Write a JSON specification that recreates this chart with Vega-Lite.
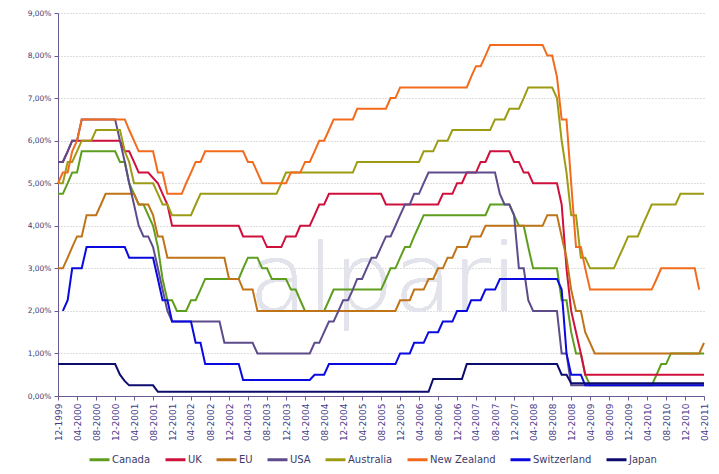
{
  "$schema": "https://vega.github.io/schema/vega-lite/v6.json",
  "width": 646,
  "height": 383,
  "autosize": "none",
  "padding": {"left": 58, "top": 13, "right": 15, "bottom": 78},
  "background": "white",
  "data": {"values": [
    {"country":"Canada","date":"1999-12-01","rate":4.75},{"country":"Canada","date":"2000-01-01","rate":4.75},{"country":"Canada","date":"2000-02-01","rate":5.0},{"country":"Canada","date":"2000-03-01","rate":5.25},{"country":"Canada","date":"2000-04-01","rate":5.25},{"country":"Canada","date":"2000-05-01","rate":5.75},{"country":"Canada","date":"2000-12-01","rate":5.75},{"country":"Canada","date":"2001-01-01","rate":5.5},{"country":"Canada","date":"2001-02-01","rate":5.5},{"country":"Canada","date":"2001-03-01","rate":5.0},{"country":"Canada","date":"2001-04-01","rate":4.75},{"country":"Canada","date":"2001-05-01","rate":4.5},{"country":"Canada","date":"2001-06-01","rate":4.5},{"country":"Canada","date":"2001-07-01","rate":4.25},{"country":"Canada","date":"2001-08-01","rate":4.0},{"country":"Canada","date":"2001-09-01","rate":3.5},{"country":"Canada","date":"2001-10-01","rate":2.75},{"country":"Canada","date":"2001-11-01","rate":2.25},{"country":"Canada","date":"2001-12-01","rate":2.25},{"country":"Canada","date":"2002-01-01","rate":2.0},{"country":"Canada","date":"2002-03-01","rate":2.0},{"country":"Canada","date":"2002-04-01","rate":2.25},{"country":"Canada","date":"2002-05-01","rate":2.25},{"country":"Canada","date":"2002-06-01","rate":2.5},{"country":"Canada","date":"2002-07-01","rate":2.75},{"country":"Canada","date":"2003-02-01","rate":2.75},{"country":"Canada","date":"2003-03-01","rate":3.0},{"country":"Canada","date":"2003-04-01","rate":3.25},{"country":"Canada","date":"2003-06-01","rate":3.25},{"country":"Canada","date":"2003-07-01","rate":3.0},{"country":"Canada","date":"2003-08-01","rate":3.0},{"country":"Canada","date":"2003-09-01","rate":2.75},{"country":"Canada","date":"2003-12-01","rate":2.75},{"country":"Canada","date":"2004-01-01","rate":2.5},{"country":"Canada","date":"2004-02-01","rate":2.5},{"country":"Canada","date":"2004-03-01","rate":2.25},{"country":"Canada","date":"2004-04-01","rate":2.0},{"country":"Canada","date":"2004-08-01","rate":2.0},{"country":"Canada","date":"2004-09-01","rate":2.25},{"country":"Canada","date":"2004-10-01","rate":2.5},{"country":"Canada","date":"2005-08-01","rate":2.5},{"country":"Canada","date":"2005-09-01","rate":2.75},{"country":"Canada","date":"2005-10-01","rate":3.0},{"country":"Canada","date":"2005-11-01","rate":3.0},{"country":"Canada","date":"2005-12-01","rate":3.25},{"country":"Canada","date":"2006-01-01","rate":3.5},{"country":"Canada","date":"2006-02-01","rate":3.5},{"country":"Canada","date":"2006-03-01","rate":3.75},{"country":"Canada","date":"2006-04-01","rate":4.0},{"country":"Canada","date":"2006-05-01","rate":4.25},{"country":"Canada","date":"2007-06-01","rate":4.25},{"country":"Canada","date":"2007-07-01","rate":4.5},{"country":"Canada","date":"2007-11-01","rate":4.5},{"country":"Canada","date":"2007-12-01","rate":4.25},{"country":"Canada","date":"2008-01-01","rate":4.0},{"country":"Canada","date":"2008-02-01","rate":4.0},{"country":"Canada","date":"2008-03-01","rate":3.5},{"country":"Canada","date":"2008-04-01","rate":3.0},{"country":"Canada","date":"2008-09-01","rate":3.0},{"country":"Canada","date":"2008-10-01","rate":2.25},{"country":"Canada","date":"2008-11-01","rate":2.25},{"country":"Canada","date":"2008-12-01","rate":1.5},{"country":"Canada","date":"2009-01-01","rate":1.0},{"country":"Canada","date":"2009-02-01","rate":1.0},{"country":"Canada","date":"2009-03-01","rate":0.5},{"country":"Canada","date":"2009-04-01","rate":0.25},{"country":"Canada","date":"2010-05-01","rate":0.25},{"country":"Canada","date":"2010-06-01","rate":0.5},{"country":"Canada","date":"2010-07-01","rate":0.75},{"country":"Canada","date":"2010-08-01","rate":0.75},{"country":"Canada","date":"2010-09-01","rate":1.0},{"country":"Canada","date":"2011-04-01","rate":1.0},

    {"country":"UK","date":"1999-12-01","rate":5.5},{"country":"UK","date":"2000-01-01","rate":5.5},{"country":"UK","date":"2000-02-01","rate":5.75},{"country":"UK","date":"2000-03-01","rate":6.0},{"country":"UK","date":"2001-01-01","rate":6.0},{"country":"UK","date":"2001-02-01","rate":5.75},{"country":"UK","date":"2001-03-01","rate":5.75},{"country":"UK","date":"2001-04-01","rate":5.5},{"country":"UK","date":"2001-05-01","rate":5.25},{"country":"UK","date":"2001-07-01","rate":5.25},{"country":"UK","date":"2001-09-01","rate":5.0},{"country":"UK","date":"2001-10-01","rate":4.75},{"country":"UK","date":"2001-11-01","rate":4.5},{"country":"UK","date":"2001-12-01","rate":4.0},{"country":"UK","date":"2003-02-01","rate":4.0},{"country":"UK","date":"2003-03-01","rate":3.75},{"country":"UK","date":"2003-07-01","rate":3.75},{"country":"UK","date":"2003-08-01","rate":3.5},{"country":"UK","date":"2003-11-01","rate":3.5},{"country":"UK","date":"2003-12-01","rate":3.75},{"country":"UK","date":"2004-02-01","rate":3.75},{"country":"UK","date":"2004-03-01","rate":4.0},{"country":"UK","date":"2004-05-01","rate":4.0},{"country":"UK","date":"2004-06-01","rate":4.25},{"country":"UK","date":"2004-07-01","rate":4.5},{"country":"UK","date":"2004-08-01","rate":4.5},{"country":"UK","date":"2004-09-01","rate":4.75},{"country":"UK","date":"2005-08-01","rate":4.75},{"country":"UK","date":"2005-09-01","rate":4.5},{"country":"UK","date":"2006-08-01","rate":4.5},{"country":"UK","date":"2006-09-01","rate":4.75},{"country":"UK","date":"2006-11-01","rate":4.75},{"country":"UK","date":"2006-12-01","rate":5.0},{"country":"UK","date":"2007-01-01","rate":5.0},{"country":"UK","date":"2007-02-01","rate":5.25},{"country":"UK","date":"2007-04-01","rate":5.25},{"country":"UK","date":"2007-05-01","rate":5.5},{"country":"UK","date":"2007-06-01","rate":5.5},{"country":"UK","date":"2007-07-01","rate":5.75},{"country":"UK","date":"2007-11-01","rate":5.75},{"country":"UK","date":"2007-12-01","rate":5.5},{"country":"UK","date":"2008-01-01","rate":5.5},{"country":"UK","date":"2008-02-01","rate":5.25},{"country":"UK","date":"2008-03-01","rate":5.25},{"country":"UK","date":"2008-04-01","rate":5.0},{"country":"UK","date":"2008-09-01","rate":5.0},{"country":"UK","date":"2008-10-01","rate":4.5},{"country":"UK","date":"2008-11-01","rate":3.0},{"country":"UK","date":"2008-12-01","rate":2.0},{"country":"UK","date":"2009-01-01","rate":1.5},{"country":"UK","date":"2009-02-01","rate":1.0},{"country":"UK","date":"2009-03-01","rate":0.5},{"country":"UK","date":"2011-04-01","rate":0.5},

    {"country":"EU","date":"1999-12-01","rate":3.0},{"country":"EU","date":"2000-01-01","rate":3.0},{"country":"EU","date":"2000-02-01","rate":3.25},{"country":"EU","date":"2000-03-01","rate":3.5},{"country":"EU","date":"2000-04-01","rate":3.75},{"country":"EU","date":"2000-05-01","rate":3.75},{"country":"EU","date":"2000-06-01","rate":4.25},{"country":"EU","date":"2000-08-01","rate":4.25},{"country":"EU","date":"2000-09-01","rate":4.5},{"country":"EU","date":"2000-10-01","rate":4.75},{"country":"EU","date":"2001-04-01","rate":4.75},{"country":"EU","date":"2001-05-01","rate":4.5},{"country":"EU","date":"2001-07-01","rate":4.5},{"country":"EU","date":"2001-08-01","rate":4.25},{"country":"EU","date":"2001-09-01","rate":3.75},{"country":"EU","date":"2001-10-01","rate":3.75},{"country":"EU","date":"2001-11-01","rate":3.25},{"country":"EU","date":"2002-11-01","rate":3.25},{"country":"EU","date":"2002-12-01","rate":2.75},{"country":"EU","date":"2003-02-01","rate":2.75},{"country":"EU","date":"2003-03-01","rate":2.5},{"country":"EU","date":"2003-05-01","rate":2.5},{"country":"EU","date":"2003-06-01","rate":2.0},{"country":"EU","date":"2005-11-01","rate":2.0},{"country":"EU","date":"2005-12-01","rate":2.25},{"country":"EU","date":"2006-02-01","rate":2.25},{"country":"EU","date":"2006-03-01","rate":2.5},{"country":"EU","date":"2006-05-01","rate":2.5},{"country":"EU","date":"2006-06-01","rate":2.75},{"country":"EU","date":"2006-07-01","rate":2.75},{"country":"EU","date":"2006-08-01","rate":3.0},{"country":"EU","date":"2006-09-01","rate":3.0},{"country":"EU","date":"2006-10-01","rate":3.25},{"country":"EU","date":"2006-11-01","rate":3.25},{"country":"EU","date":"2006-12-01","rate":3.5},{"country":"EU","date":"2007-02-01","rate":3.5},{"country":"EU","date":"2007-03-01","rate":3.75},{"country":"EU","date":"2007-05-01","rate":3.75},{"country":"EU","date":"2007-06-01","rate":4.0},{"country":"EU","date":"2008-06-01","rate":4.0},{"country":"EU","date":"2008-07-01","rate":4.25},{"country":"EU","date":"2008-09-01","rate":4.25},{"country":"EU","date":"2008-10-01","rate":3.75},{"country":"EU","date":"2008-11-01","rate":3.25},{"country":"EU","date":"2008-12-01","rate":2.5},{"country":"EU","date":"2009-01-01","rate":2.0},{"country":"EU","date":"2009-02-01","rate":2.0},{"country":"EU","date":"2009-03-01","rate":1.5},{"country":"EU","date":"2009-04-01","rate":1.25},{"country":"EU","date":"2009-05-01","rate":1.0},{"country":"EU","date":"2011-03-01","rate":1.0},{"country":"EU","date":"2011-04-01","rate":1.25},

    {"country":"USA","date":"1999-12-01","rate":5.5},{"country":"USA","date":"2000-01-01","rate":5.5},{"country":"USA","date":"2000-02-01","rate":5.75},{"country":"USA","date":"2000-03-01","rate":6.0},{"country":"USA","date":"2000-04-01","rate":6.0},{"country":"USA","date":"2000-05-01","rate":6.5},{"country":"USA","date":"2000-12-01","rate":6.5},{"country":"USA","date":"2001-01-01","rate":6.0},{"country":"USA","date":"2001-02-01","rate":5.5},{"country":"USA","date":"2001-03-01","rate":5.0},{"country":"USA","date":"2001-04-01","rate":4.5},{"country":"USA","date":"2001-05-01","rate":4.0},{"country":"USA","date":"2001-06-01","rate":3.75},{"country":"USA","date":"2001-07-01","rate":3.75},{"country":"USA","date":"2001-08-01","rate":3.5},{"country":"USA","date":"2001-09-01","rate":3.0},{"country":"USA","date":"2001-10-01","rate":2.5},{"country":"USA","date":"2001-11-01","rate":2.0},{"country":"USA","date":"2001-12-01","rate":1.75},{"country":"USA","date":"2002-10-01","rate":1.75},{"country":"USA","date":"2002-11-01","rate":1.25},{"country":"USA","date":"2003-05-01","rate":1.25},{"country":"USA","date":"2003-06-01","rate":1.0},{"country":"USA","date":"2004-05-01","rate":1.0},{"country":"USA","date":"2004-06-01","rate":1.25},{"country":"USA","date":"2004-07-01","rate":1.25},{"country":"USA","date":"2004-08-01","rate":1.5},{"country":"USA","date":"2004-09-01","rate":1.75},{"country":"USA","date":"2004-10-01","rate":1.75},{"country":"USA","date":"2004-11-01","rate":2.0},{"country":"USA","date":"2004-12-01","rate":2.25},{"country":"USA","date":"2005-01-01","rate":2.25},{"country":"USA","date":"2005-02-01","rate":2.5},{"country":"USA","date":"2005-03-01","rate":2.75},{"country":"USA","date":"2005-04-01","rate":2.75},{"country":"USA","date":"2005-05-01","rate":3.0},{"country":"USA","date":"2005-06-01","rate":3.25},{"country":"USA","date":"2005-07-01","rate":3.25},{"country":"USA","date":"2005-08-01","rate":3.5},{"country":"USA","date":"2005-09-01","rate":3.75},{"country":"USA","date":"2005-10-01","rate":3.75},{"country":"USA","date":"2005-11-01","rate":4.0},{"country":"USA","date":"2005-12-01","rate":4.25},{"country":"USA","date":"2006-01-01","rate":4.5},{"country":"USA","date":"2006-02-01","rate":4.5},{"country":"USA","date":"2006-03-01","rate":4.75},{"country":"USA","date":"2006-04-01","rate":4.75},{"country":"USA","date":"2006-05-01","rate":5.0},{"country":"USA","date":"2006-06-01","rate":5.25},{"country":"USA","date":"2007-08-01","rate":5.25},{"country":"USA","date":"2007-09-01","rate":4.75},{"country":"USA","date":"2007-10-01","rate":4.5},{"country":"USA","date":"2007-11-01","rate":4.5},{"country":"USA","date":"2007-12-01","rate":4.25},{"country":"USA","date":"2008-01-01","rate":3.0},{"country":"USA","date":"2008-02-01","rate":3.0},{"country":"USA","date":"2008-03-01","rate":2.25},{"country":"USA","date":"2008-04-01","rate":2.0},{"country":"USA","date":"2008-09-01","rate":2.0},{"country":"USA","date":"2008-10-01","rate":1.0},{"country":"USA","date":"2008-11-01","rate":1.0},{"country":"USA","date":"2008-12-01","rate":0.25},{"country":"USA","date":"2011-04-01","rate":0.25},

    {"country":"Australia","date":"1999-12-01","rate":5.0},{"country":"Australia","date":"2000-01-01","rate":5.0},{"country":"Australia","date":"2000-02-01","rate":5.5},{"country":"Australia","date":"2000-03-01","rate":5.5},{"country":"Australia","date":"2000-04-01","rate":5.75},{"country":"Australia","date":"2000-05-01","rate":6.0},{"country":"Australia","date":"2000-07-01","rate":6.0},{"country":"Australia","date":"2000-08-01","rate":6.25},{"country":"Australia","date":"2001-01-01","rate":6.25},{"country":"Australia","date":"2001-02-01","rate":5.75},{"country":"Australia","date":"2001-03-01","rate":5.5},{"country":"Australia","date":"2001-04-01","rate":5.0},{"country":"Australia","date":"2001-08-01","rate":5.0},{"country":"Australia","date":"2001-09-01","rate":4.75},{"country":"Australia","date":"2001-10-01","rate":4.5},{"country":"Australia","date":"2001-11-01","rate":4.5},{"country":"Australia","date":"2001-12-01","rate":4.25},{"country":"Australia","date":"2002-04-01","rate":4.25},{"country":"Australia","date":"2002-05-01","rate":4.5},{"country":"Australia","date":"2002-06-01","rate":4.75},{"country":"Australia","date":"2003-10-01","rate":4.75},{"country":"Australia","date":"2003-11-01","rate":5.0},{"country":"Australia","date":"2003-12-01","rate":5.25},{"country":"Australia","date":"2005-02-01","rate":5.25},{"country":"Australia","date":"2005-03-01","rate":5.5},{"country":"Australia","date":"2006-04-01","rate":5.5},{"country":"Australia","date":"2006-05-01","rate":5.75},{"country":"Australia","date":"2006-07-01","rate":5.75},{"country":"Australia","date":"2006-08-01","rate":6.0},{"country":"Australia","date":"2006-10-01","rate":6.0},{"country":"Australia","date":"2006-11-01","rate":6.25},{"country":"Australia","date":"2007-07-01","rate":6.25},{"country":"Australia","date":"2007-08-01","rate":6.5},{"country":"Australia","date":"2007-10-01","rate":6.5},{"country":"Australia","date":"2007-11-01","rate":6.75},{"country":"Australia","date":"2008-01-01","rate":6.75},{"country":"Australia","date":"2008-02-01","rate":7.0},{"country":"Australia","date":"2008-03-01","rate":7.25},{"country":"Australia","date":"2008-08-01","rate":7.25},{"country":"Australia","date":"2008-09-01","rate":7.0},{"country":"Australia","date":"2008-10-01","rate":6.0},{"country":"Australia","date":"2008-11-01","rate":5.25},{"country":"Australia","date":"2008-12-01","rate":4.25},{"country":"Australia","date":"2009-01-01","rate":4.25},{"country":"Australia","date":"2009-02-01","rate":3.25},{"country":"Australia","date":"2009-03-01","rate":3.25},{"country":"Australia","date":"2009-04-01","rate":3.0},{"country":"Australia","date":"2009-09-01","rate":3.0},{"country":"Australia","date":"2009-10-01","rate":3.25},{"country":"Australia","date":"2009-11-01","rate":3.5},{"country":"Australia","date":"2009-12-01","rate":3.75},{"country":"Australia","date":"2010-02-01","rate":3.75},{"country":"Australia","date":"2010-03-01","rate":4.0},{"country":"Australia","date":"2010-04-01","rate":4.25},{"country":"Australia","date":"2010-05-01","rate":4.5},{"country":"Australia","date":"2010-10-01","rate":4.5},{"country":"Australia","date":"2010-11-01","rate":4.75},{"country":"Australia","date":"2011-04-01","rate":4.75},

    {"country":"New Zealand","date":"1999-12-01","rate":5.0},{"country":"New Zealand","date":"2000-01-01","rate":5.25},{"country":"New Zealand","date":"2000-02-01","rate":5.25},{"country":"New Zealand","date":"2000-03-01","rate":5.75},{"country":"New Zealand","date":"2000-04-01","rate":6.0},{"country":"New Zealand","date":"2000-05-01","rate":6.5},{"country":"New Zealand","date":"2001-02-01","rate":6.5},{"country":"New Zealand","date":"2001-03-01","rate":6.25},{"country":"New Zealand","date":"2001-04-01","rate":6.0},{"country":"New Zealand","date":"2001-05-01","rate":5.75},{"country":"New Zealand","date":"2001-08-01","rate":5.75},{"country":"New Zealand","date":"2001-09-01","rate":5.25},{"country":"New Zealand","date":"2001-10-01","rate":5.25},{"country":"New Zealand","date":"2001-11-01","rate":4.75},{"country":"New Zealand","date":"2002-02-01","rate":4.75},{"country":"New Zealand","date":"2002-03-01","rate":5.0},{"country":"New Zealand","date":"2002-04-01","rate":5.25},{"country":"New Zealand","date":"2002-05-01","rate":5.5},{"country":"New Zealand","date":"2002-06-01","rate":5.5},{"country":"New Zealand","date":"2002-07-01","rate":5.75},{"country":"New Zealand","date":"2003-03-01","rate":5.75},{"country":"New Zealand","date":"2003-04-01","rate":5.5},{"country":"New Zealand","date":"2003-05-01","rate":5.5},{"country":"New Zealand","date":"2003-06-01","rate":5.25},{"country":"New Zealand","date":"2003-07-01","rate":5.0},{"country":"New Zealand","date":"2003-12-01","rate":5.0},{"country":"New Zealand","date":"2004-01-01","rate":5.25},{"country":"New Zealand","date":"2004-03-01","rate":5.25},{"country":"New Zealand","date":"2004-04-01","rate":5.5},{"country":"New Zealand","date":"2004-05-01","rate":5.5},{"country":"New Zealand","date":"2004-06-01","rate":5.75},{"country":"New Zealand","date":"2004-07-01","rate":6.0},{"country":"New Zealand","date":"2004-08-01","rate":6.0},{"country":"New Zealand","date":"2004-09-01","rate":6.25},{"country":"New Zealand","date":"2004-10-01","rate":6.5},{"country":"New Zealand","date":"2005-02-01","rate":6.5},{"country":"New Zealand","date":"2005-03-01","rate":6.75},{"country":"New Zealand","date":"2005-09-01","rate":6.75},{"country":"New Zealand","date":"2005-10-01","rate":7.0},{"country":"New Zealand","date":"2005-11-01","rate":7.0},{"country":"New Zealand","date":"2005-12-01","rate":7.25},{"country":"New Zealand","date":"2007-02-01","rate":7.25},{"country":"New Zealand","date":"2007-03-01","rate":7.5},{"country":"New Zealand","date":"2007-04-01","rate":7.75},{"country":"New Zealand","date":"2007-05-01","rate":7.75},{"country":"New Zealand","date":"2007-06-01","rate":8.0},{"country":"New Zealand","date":"2007-07-01","rate":8.25},{"country":"New Zealand","date":"2008-06-01","rate":8.25},{"country":"New Zealand","date":"2008-07-01","rate":8.0},{"country":"New Zealand","date":"2008-08-01","rate":8.0},{"country":"New Zealand","date":"2008-09-01","rate":7.5},{"country":"New Zealand","date":"2008-10-01","rate":6.5},{"country":"New Zealand","date":"2008-11-01","rate":6.5},{"country":"New Zealand","date":"2008-12-01","rate":5.0},{"country":"New Zealand","date":"2009-01-01","rate":3.5},{"country":"New Zealand","date":"2009-02-01","rate":3.5},{"country":"New Zealand","date":"2009-03-01","rate":3.0},{"country":"New Zealand","date":"2009-04-01","rate":2.5},{"country":"New Zealand","date":"2010-05-01","rate":2.5},{"country":"New Zealand","date":"2010-06-01","rate":2.75},{"country":"New Zealand","date":"2010-07-01","rate":3.0},{"country":"New Zealand","date":"2011-02-01","rate":3.0},{"country":"New Zealand","date":"2011-03-01","rate":2.5},

    {"country":"Switzerland","date":"2000-01-01","rate":2.0},{"country":"Switzerland","date":"2000-02-01","rate":2.25},{"country":"Switzerland","date":"2000-03-01","rate":3.0},{"country":"Switzerland","date":"2000-05-01","rate":3.0},{"country":"Switzerland","date":"2000-06-01","rate":3.5},{"country":"Switzerland","date":"2001-02-01","rate":3.5},{"country":"Switzerland","date":"2001-03-01","rate":3.25},{"country":"Switzerland","date":"2001-08-01","rate":3.25},{"country":"Switzerland","date":"2001-09-01","rate":2.75},{"country":"Switzerland","date":"2001-10-01","rate":2.25},{"country":"Switzerland","date":"2001-11-01","rate":2.25},{"country":"Switzerland","date":"2001-12-01","rate":1.75},{"country":"Switzerland","date":"2002-04-01","rate":1.75},{"country":"Switzerland","date":"2002-05-01","rate":1.25},{"country":"Switzerland","date":"2002-06-01","rate":1.25},{"country":"Switzerland","date":"2002-07-01","rate":0.75},{"country":"Switzerland","date":"2003-02-01","rate":0.75},{"country":"Switzerland","date":"2003-03-01","rate":0.375},{"country":"Switzerland","date":"2004-05-01","rate":0.375},{"country":"Switzerland","date":"2004-06-01","rate":0.5},{"country":"Switzerland","date":"2004-08-01","rate":0.5},{"country":"Switzerland","date":"2004-09-01","rate":0.75},{"country":"Switzerland","date":"2005-11-01","rate":0.75},{"country":"Switzerland","date":"2005-12-01","rate":1.0},{"country":"Switzerland","date":"2006-02-01","rate":1.0},{"country":"Switzerland","date":"2006-03-01","rate":1.25},{"country":"Switzerland","date":"2006-05-01","rate":1.25},{"country":"Switzerland","date":"2006-06-01","rate":1.5},{"country":"Switzerland","date":"2006-08-01","rate":1.5},{"country":"Switzerland","date":"2006-09-01","rate":1.75},{"country":"Switzerland","date":"2006-11-01","rate":1.75},{"country":"Switzerland","date":"2006-12-01","rate":2.0},{"country":"Switzerland","date":"2007-02-01","rate":2.0},{"country":"Switzerland","date":"2007-03-01","rate":2.25},{"country":"Switzerland","date":"2007-05-01","rate":2.25},{"country":"Switzerland","date":"2007-06-01","rate":2.5},{"country":"Switzerland","date":"2007-08-01","rate":2.5},{"country":"Switzerland","date":"2007-09-01","rate":2.75},{"country":"Switzerland","date":"2008-09-01","rate":2.75},{"country":"Switzerland","date":"2008-10-01","rate":2.5},{"country":"Switzerland","date":"2008-11-01","rate":1.0},{"country":"Switzerland","date":"2008-12-01","rate":0.5},{"country":"Switzerland","date":"2009-02-01","rate":0.5},{"country":"Switzerland","date":"2009-03-01","rate":0.25},{"country":"Switzerland","date":"2011-04-01","rate":0.25},

    {"country":"Japan","date":"1999-12-01","rate":0.75},{"country":"Japan","date":"2000-12-01","rate":0.75},{"country":"Japan","date":"2001-01-01","rate":0.5},{"country":"Japan","date":"2001-02-01","rate":0.35},{"country":"Japan","date":"2001-03-01","rate":0.25},{"country":"Japan","date":"2001-08-01","rate":0.25},{"country":"Japan","date":"2001-09-01","rate":0.1},{"country":"Japan","date":"2006-06-01","rate":0.1},{"country":"Japan","date":"2006-07-01","rate":0.4},{"country":"Japan","date":"2007-01-01","rate":0.4},{"country":"Japan","date":"2007-02-01","rate":0.75},{"country":"Japan","date":"2008-09-01","rate":0.75},{"country":"Japan","date":"2008-10-01","rate":0.5},{"country":"Japan","date":"2008-11-01","rate":0.5},{"country":"Japan","date":"2008-12-01","rate":0.3},{"country":"Japan","date":"2011-04-01","rate":0.3}
  ]},
  "layer": [
    {
      "mark": {"type": "text", "text": "alpari", "font": "DejaVu Sans", "fontWeight": 200, "fontSize": 95, "color": "#E3E3EC", "align": "center", "baseline": "alphabetic"},
      "encoding": {
        "x": {"datum": {"year": 2005, "month": 8, "date": 15, "utc": true}, "type": "temporal"},
        "y": {"datum": 2.0, "type": "quantitative"}
      }
    },
    {
      "mark": {"type": "line", "strokeWidth": 2, "interpolate": "linear"},
      "encoding": {
        "x": {
          "field": "date", "type": "temporal",
          "scale": {"type": "utc", "domain": [{"year": 1999, "month": 12, "date": 1, "utc": true}, {"year": 2011, "month": 4, "date": 1, "utc": true}], "nice": false},
          "axis": {
            "title": null, "grid": false, "format": "%m-%Y", "labelAngle": 270, "labelFontSize": 9, "labelOverlap": false, "labelSeparation": 0, "labelFlush": false, "tickSize": 4, "labelPadding": 3, "tickCount": 60, "labelColor": "#45398A",
            "values": [
              {"year":1999,"month":12,"date":1,"utc":true},{"year":2000,"month":4,"date":1,"utc":true},{"year":2000,"month":8,"date":1,"utc":true},{"year":2000,"month":12,"date":1,"utc":true},
              {"year":2001,"month":4,"date":1,"utc":true},{"year":2001,"month":8,"date":1,"utc":true},{"year":2001,"month":12,"date":1,"utc":true},
              {"year":2002,"month":4,"date":1,"utc":true},{"year":2002,"month":8,"date":1,"utc":true},{"year":2002,"month":12,"date":1,"utc":true},
              {"year":2003,"month":4,"date":1,"utc":true},{"year":2003,"month":8,"date":1,"utc":true},{"year":2003,"month":12,"date":1,"utc":true},
              {"year":2004,"month":4,"date":1,"utc":true},{"year":2004,"month":8,"date":1,"utc":true},{"year":2004,"month":12,"date":1,"utc":true},
              {"year":2005,"month":4,"date":1,"utc":true},{"year":2005,"month":8,"date":1,"utc":true},{"year":2005,"month":12,"date":1,"utc":true},
              {"year":2006,"month":4,"date":1,"utc":true},{"year":2006,"month":8,"date":1,"utc":true},{"year":2006,"month":12,"date":1,"utc":true},
              {"year":2007,"month":4,"date":1,"utc":true},{"year":2007,"month":8,"date":1,"utc":true},{"year":2007,"month":12,"date":1,"utc":true},
              {"year":2008,"month":4,"date":1,"utc":true},{"year":2008,"month":8,"date":1,"utc":true},{"year":2008,"month":12,"date":1,"utc":true},
              {"year":2009,"month":4,"date":1,"utc":true},{"year":2009,"month":8,"date":1,"utc":true},{"year":2009,"month":12,"date":1,"utc":true},
              {"year":2010,"month":4,"date":1,"utc":true},{"year":2010,"month":8,"date":1,"utc":true},{"year":2010,"month":12,"date":1,"utc":true},
              {"year":2011,"month":4,"date":1,"utc":true}
            ]
          }
        },
        "y": {
          "field": "rate", "type": "quantitative",
          "scale": {"domain": [0, 9], "nice": false},
          "axis": {
            "title": null, "values": [0,1,2,3,4,5,6,7,8,9],
            "labelExpr": "replace(format(datum.value, '.2f'), '.', ',') + '%'",
            "grid": true, "gridColor": "#BDBDBD", "gridDash": [1, 2], "gridWidth": 1,
            "labelFontSize": 7.5, "tickSize": 4, "labelPadding": 3
          }
        },
        "color": {
          "field": "country", "type": "nominal",
          "scale": {
            "domain": ["Canada", "UK", "EU", "USA", "Australia", "New Zealand", "Switzerland", "Japan"],
            "range": ["#5E9E1E", "#D0103C", "#C07418", "#5E4B8C", "#9C9C14", "#F26B1D", "#0A0AE0", "#0C0C6C"]
          },
          "legend": {
            "title": null, "orient": "none", "legendX": 30, "legendY": 435, "direction": "horizontal", "symbolType": "stroke",
            "symbolSize": 400, "symbolStrokeWidth": 3, "labelFontSize": 10, "labelOffset": 1,
            "columnPadding": 8
          }
        }
      }
    }
  ],
  "config": {
    "view": {"stroke": null},
    "axis": {"labelFont": "DejaVu Sans", "labelColor": "#3C3C78", "domainColor": "#6A5A92", "tickColor": "#6A5A92", "domainWidth": 1},
    "axisX": {"labelOverlap": false},
    "legend": {"labelFont": "DejaVu Sans", "labelColor": "#3C3C6B"}
  }
}
